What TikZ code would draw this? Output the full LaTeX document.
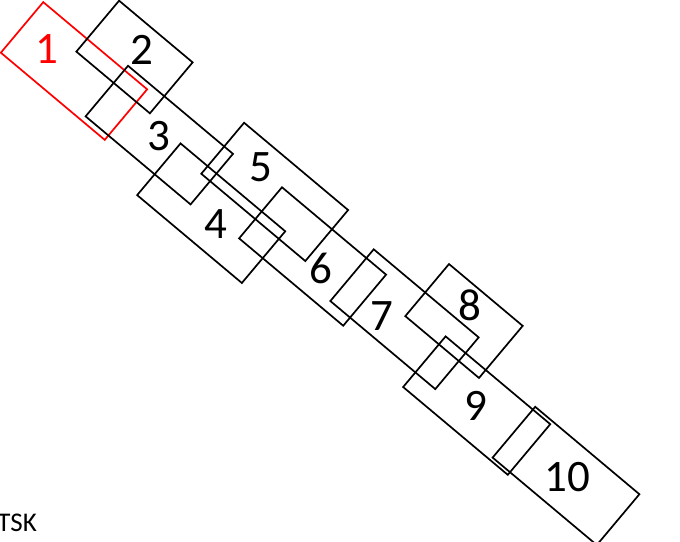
\documentclass[tikz,border=0pt]{standalone}
\usepackage{fontspec}
\setmainfont{Carlito}
\begin{document}
\begin{tikzpicture}[x=1pt,y=-1pt,
  boxshape/.style={draw=black, line width=1.7pt, rectangle, inner sep=0pt, outer sep=0pt, rotate=-40},
  redbox/.style={boxshape, draw=red},
  numlabel/.style={anchor=base, inner sep=0pt, font=\fontsize{45}{45}\selectfont},
  notelabel/.style={anchor=base east, inner sep=0pt, font=\fontsize{27}{27}\selectfont}]
\useasboundingbox (0,0) rectangle (680,541);
\clip (0,0) rectangle (680,541);
% rectangles
\node[redbox, minimum width=135.6pt, minimum height=66pt]   (r1)  at (74,71)       {};
\node[boxshape, minimum width=96pt,   minimum height=66.5pt] (r2)  at (134.5,57)    {};
\node[boxshape, minimum width=137pt,  minimum height=66pt]   (r3)  at (159.3,135.1) {};
\node[boxshape, minimum width=136.7pt,minimum height=67.5pt] (r4)  at (211.2,213.2) {};
\node[boxshape, minimum width=135.8pt,minimum height=66.6pt] (r5)  at (274.7,191.9) {};
\node[boxshape, minimum width=135.9pt,minimum height=66.7pt] (r6)  at (312.6,256.5) {};
\node[boxshape, minimum width=137pt,  minimum height=67.5pt] (r7)  at (404.5,319.2) {};
\node[boxshape, minimum width=96.2pt, minimum height=68pt]   (r8)  at (464,321)     {};
\node[boxshape, minimum width=136.6pt,minimum height=66.1pt] (r9)  at (476.7,405.6) {};
\node[boxshape, minimum width=136pt,  minimum height=66.3pt] (r10) at (566,475.9)   {};
% labels
\node[numlabel, text=red] (l1)  at (46.7,63.3)  {1};
\node[numlabel] (l2)  at (141.7,64)   {2};
\node[numlabel] (l3)  at (159,150)    {3};
\node[numlabel] (l4)  at (216,238.3)  {4};
\node[numlabel] (l5)  at (261,181.7)  {5};
\node[numlabel] (l6)  at (321,283.3)  {6};
\node[numlabel] (l7)  at (381.7,330.7) {7};
\node[numlabel] (l8)  at (469.7,320)  {8};
\node[numlabel] (l9)  at (476.3,420.5) {9};
\node[numlabel] (l10) at (567.5,491.7) {10};
\node[notelabel] (tsk) at (37,531) {TSK};
\end{tikzpicture}
\end{document}
